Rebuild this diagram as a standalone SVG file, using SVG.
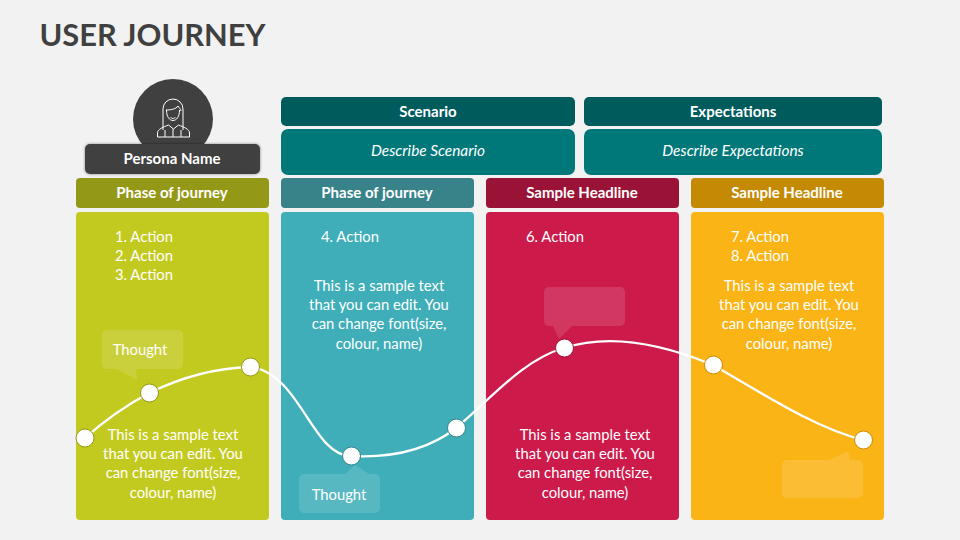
<svg xmlns="http://www.w3.org/2000/svg" width="960" height="540" viewBox="0 0 960 540">
<defs><filter id="sh" x="-10%" y="-30%" width="120%" height="160%"><feDropShadow dx="0" dy="0" stdDeviation="1.5" flood-color="#000" flood-opacity=".45"/></filter></defs>
<style>
text{font-family:Lato,"Open Sans",sans-serif;fill:#fff;text-anchor:middle}
.h{font-size:15px;font-weight:700}
.b{font-size:14.8px}
.i{font-size:15.4px;font-style:italic}
.l{text-anchor:start}
.t{fill:#fff;fill-opacity:.13}
.dot{fill:#fff;stroke-width:1}
.ic{fill:none;stroke:#fff;stroke-width:1}
</style>
<rect width="960" height="540" fill="#f2f2f2"/>
<text x="152.500" y="45.500" style="font-size:30.800px;font-weight:700;fill:#404040">USER JOURNEY</text>
<g id="persona">
<circle cx="173" cy="119" r="40" fill="#404040"/>
<g class="ic">
<path d="M163 130V109a10 10 0 0 1 20 0v21"/>
<path d="M166 110c5 0 10-1 12-4 1 2 3 3 3 5"/>
<path d="M166.500 110c0 14 13 14 13 0"/>
<path d="M170.500 117c1.500 2 3.500 2 5 0"/>
<path d="M157.500 137v-4c0-4 6-6 11-8l5 4 5-4c5 2 11 4 11 8v4z"/>
<path d="M173 129v8M165 130v7M181 130v7"/>
</g>
<rect x="85" y="144" width="175" height="30" rx="5" fill="#404040" filter="url(#sh)"/>
<text x="172" y="163.500" class="h">Persona Name</text>
</g>
<g id="scenario">
<rect x="281" y="97" width="294" height="29" rx="5" fill="#005b5d"/>
<text x="428" y="116.500" class="h">Scenario</text>
<rect x="281" y="129" width="294" height="46" rx="7" fill="#00787a"/>
<text x="428" y="156" class="i">Describe Scenario</text>
</g>
<g id="expectations">
<rect x="584" y="97" width="298" height="29" rx="5" fill="#005b5d"/>
<text x="733" y="116.500" class="h">Expectations</text>
<rect x="584" y="129" width="298" height="46" rx="7" fill="#00787a"/>
<text x="733" y="156" class="i">Describe Expectations</text>
</g>
<g id="phase1">
<rect x="76" y="178" width="193" height="30" rx="4" fill="#949817"/>
<text x="172" y="198" class="h">Phase of journey</text>
<rect x="76" y="212" width="193" height="308" rx="4" fill="#c3ca1f"/>
<text class="b l" x="115" y="242">1. Action</text>
<text class="b l" x="115" y="261">2. Action</text>
<text class="b l" x="115" y="280">3. Action</text>
<text class="b" x="173" y="440">This is a sample text</text>
<text class="b" x="173" y="459">that you can edit. You</text>
<text class="b" x="173" y="478">can change font(size,</text>
<text class="b" x="173" y="498">colour, name)</text>
<path class="t" d="M107 330h71a5 5 0 0 1 5 5v29a5 5 0 0 1-5 5h-42l1 11-20-11h-10a5 5 0 0 1-5-5v-29a5 5 0 0 1 5-5z"/>
<text class="b" x="140" y="355">Thought</text>
</g>
<g id="phase2">
<rect x="281" y="178" width="193" height="30" rx="4" fill="#38838a"/>
<text x="377" y="198" class="h">Phase of journey</text>
<rect x="281" y="212" width="193" height="308" rx="4" fill="#40aeb9"/>
<text class="b l" x="321" y="242">4. Action</text>
<text class="b" x="379" y="291">This is a sample text</text>
<text class="b" x="379" y="310">that you can edit. You</text>
<text class="b" x="379" y="329">can change font(size,</text>
<text class="b" x="379" y="349">colour, name)</text>
<path class="t" d="M304 474h41l10-9 14 9h6a5 5 0 0 1 5 5v29a5 5 0 0 1-5 5h-71a5 5 0 0 1-5-5v-29a5 5 0 0 1 5-5z"/>
<text class="b" x="339" y="500">Thought</text>
</g>
<g id="phase3">
<rect x="486" y="178" width="193" height="30" rx="4" fill="#9a1337"/>
<text x="582" y="198" class="h">Sample Headline</text>
<rect x="486" y="212" width="193" height="308" rx="4" fill="#cc1a4b"/>
<text class="b l" x="526" y="242">6. Action</text>
<text class="b" x="585" y="440">This is a sample text</text>
<text class="b" x="585" y="459">that you can edit. You</text>
<text class="b" x="585" y="478">can change font(size,</text>
<text class="b" x="585" y="498">colour, name)</text>
<path class="t" d="M549 287h71a5 5 0 0 1 5 5v29a5 5 0 0 1-5 5h-48l-13 13-6-13h-4a5 5 0 0 1-5-5v-29a5 5 0 0 1 5-5z"/>
</g>
<g id="phase4">
<rect x="691" y="178" width="193" height="30" rx="4" fill="#c48a04"/>
<text x="787" y="198" class="h">Sample Headline</text>
<rect x="691" y="212" width="193" height="308" rx="4" fill="#fbb415"/>
<text class="b l" x="731" y="242">7. Action</text>
<text class="b l" x="731" y="261">8. Action</text>
<text class="b" x="789" y="291">This is a sample text</text>
<text class="b" x="789" y="310">that you can edit. You</text>
<text class="b" x="789" y="329">can change font(size,</text>
<text class="b" x="789" y="349">colour, name)</text>
<path class="t" d="M787 460h42l19-9 2 9h8a5 5 0 0 1 5 5v28a5 5 0 0 1-5 5h-71a5 5 0 0 1-5-5v-28a5 5 0 0 1 5-5z"/>
</g>
<g id="connectors">
<path d="M85 438C105 420 127 405 149 393C182 377 215 368 250 367C300 372 312 456 351 456C390 458 428 450 456 428C490 400 522 360 564 348C610 333 665 345 713 365C765 395 815 428 863 440" fill="none" stroke="#fff" stroke-width="2.300"/>
</g>
<g id="points">
<circle class="dot" cx="85" cy="438" r="9" stroke="#949817"/>
<circle class="dot" cx="149.500" cy="393" r="9" stroke="#949817"/>
<circle class="dot" cx="250.500" cy="367" r="9" stroke="#949817"/>
<circle class="dot" cx="351.500" cy="456" r="9" stroke="#38838a"/>
<circle class="dot" cx="456.500" cy="428" r="9" stroke="#38838a"/>
<circle class="dot" cx="564.500" cy="348" r="9" stroke="#9a1337"/>
<circle class="dot" cx="713.500" cy="365" r="9" stroke="#c48a04"/>
<circle class="dot" cx="863.500" cy="440" r="9" stroke="#c48a04"/>
</g>
</svg>
